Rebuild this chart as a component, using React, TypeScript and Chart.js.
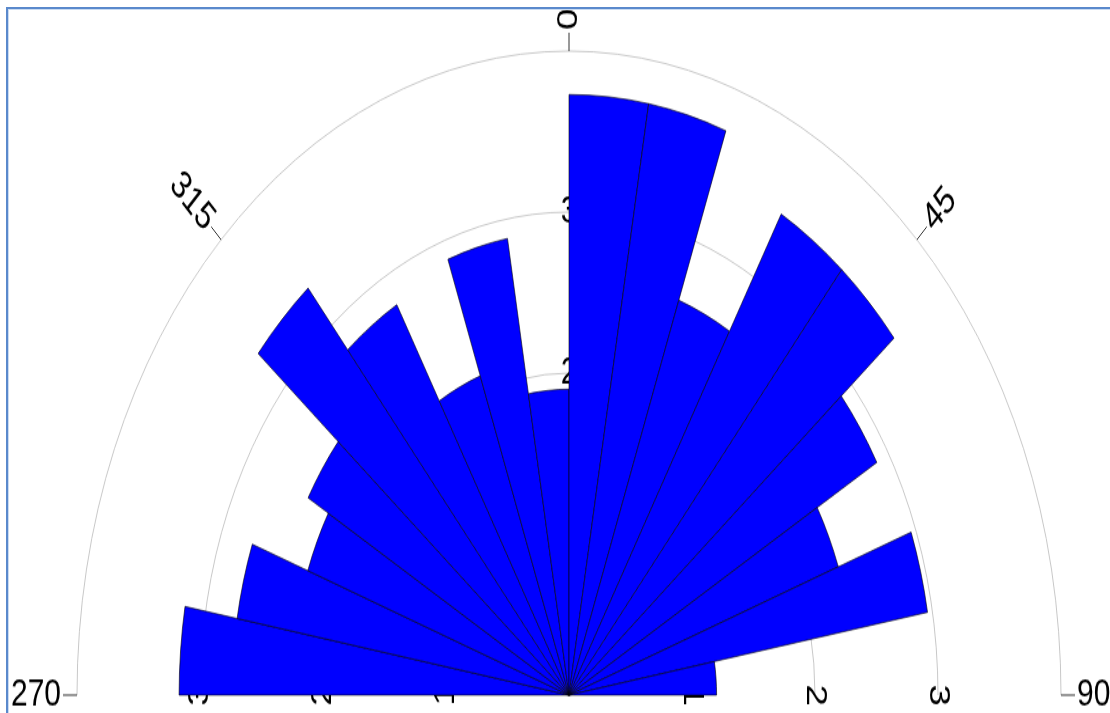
import React, { useEffect, useRef } from "react";
import { Chart, registerables } from "chart.js";

Chart.register(...registerables);

// Direction bins (10° each), clockwise from 270° through 0° to 90°
const binLabels = [
  "270-280", "280-290", "290-300", "300-310", "310-320", "320-330",
  "330-340", "340-350", "350-360", "0-10", "10-20", "20-30",
  "30-40", "40-50", "50-60", "60-70", "70-80", "80-90",
];
const binValues = [
  3.17, 2.74, 2.26, 2.45, 3.3, 2.8,
  2.11, 2.88, 1.9, 3.73, 3.73, 2.61,
  3.45, 3.45, 2.89, 2.33, 2.96, 1.2,
];
const ringValues = [1, 2, 3, 4];
const ringTickValues = [1, 2, 3];
const ringTickLabels = ["1", "2", "3"];
const ringLabelAxes = [270, 0, 90];
const angleTickDegrees = [270, 315, 0, 45, 90];
const angleTickLabels = ["270", "315", "0", "45", "90"];

const FONT = '30px "Liberation Sans", Arial, sans-serif';
const STRETCH_Y = 1.309;

const polarDecor = {
  id: "polarDecor",
  beforeDatasetsDraw(chart: any) {
    const sc = chart.scales.r;
    const ctx = chart.ctx as CanvasRenderingContext2D;
    const cx = sc.xCenter;
    const cy = sc.yCenter;
    ctx.save();

    // half rings
    ctx.strokeStyle = "#c8c8c8";
    ctx.lineWidth = 1;
    ringValues.forEach((v) => {
      const r = sc.getDistanceFromCenterForValue(v);
      ctx.beginPath();
      ctx.arc(cx, cy, r, Math.PI, 2 * Math.PI);
      ctx.stroke();
    });

    // radial tick labels (drawn under the bars)
    ctx.font = FONT;
    ctx.fillStyle = "#000";
    ctx.textAlign = "center";
    ctx.textBaseline = "middle";
    ringLabelAxes.forEach((deg) => {
      const a = (deg * Math.PI) / 180;
      ringTickValues.forEach((v, i) => {
        const r = sc.getDistanceFromCenterForValue(v);
        const x = cx + r * Math.sin(a);
        const y = cy - r * Math.cos(a);
        ctx.save();
        ctx.translate(x, y);
        ctx.rotate(a);
        ctx.fillText(ringTickLabels[i], 0, 0);
        ctx.restore();
      });
    });

    // angular ticks and labels
    const R = sc.drawingArea;
    angleTickDegrees.forEach((deg, i) => {
      const a = (deg * Math.PI) / 180;
      const sx = Math.sin(a);
      const sy = -Math.cos(a);
      ctx.strokeStyle = "#333";
      ctx.lineWidth = 1;
      ctx.beginPath();
      ctx.moveTo(cx + R * sx, cy + R * sy);
      ctx.lineTo(cx + (R + 14) * sx, cy + (R + 14) * sy);
      ctx.stroke();
      const tx = cx + (R + 16) * sx;
      const ty = cy + (R + 16) * sy;
      const rightSide = deg <= 180;
      const rot = rightSide ? deg - 90 : deg - 270;
      ctx.save();
      ctx.translate(tx, ty);
      ctx.rotate((rot * Math.PI) / 180);
      ctx.textAlign = rightSide ? "left" : "right";
      ctx.textBaseline = "middle";
      ctx.fillText(angleTickLabels[i], 0, 0);
      ctx.restore();
    });

    ctx.restore();
  },
};

export default function App() {
  const canvasRef = useRef<HTMLCanvasElement | null>(null);

  useEffect(() => {
    if (!canvasRef.current) return;
    const chart = new Chart(canvasRef.current, {
      type: "polarArea",
      data: {
        labels: binLabels,
        datasets: [
          {
            data: binValues,
            angle: 10,
            backgroundColor: "#0000ff",
            borderColor: "#000000",
            borderWidth: 0.6,
          } as any,
        ],
      },
      options: {
        responsive: false,
        animation: false,
        devicePixelRatio: 1,
        layout: { padding: { left: 77, right: 49, top: 39, bottom: 10 } },
        plugins: {
          legend: { display: false },
          tooltip: { enabled: false },
        },
        scales: {
          r: {
            min: 0,
            max: 4,
            startAngle: 270,
            ticks: { display: false, stepSize: 1 },
            grid: { display: false },
            angleLines: { display: false },
            pointLabels: { display: false },
          },
        },
      } as any,
      plugins: [polarDecor],
    });
    return () => chart.destroy();
  }, []);

  return (
    <div
      style={{
        position: "fixed",
        left: 0,
        top: 0,
        width: 1110,
        height: 713,
        overflow: "hidden",
        background: "#ffffff",
      }}
    >
      <div
        style={{
          position: "absolute",
          left: 0,
          top: 0,
          transform: `scaleY(${STRETCH_Y})`,
          transformOrigin: "0 0",
        }}
      >
        <canvas ref={canvasRef} width={1110} height={1033} />
      </div>
      <div
        style={{
          position: "absolute",
          left: 6,
          top: 7,
          width: 1200,
          height: 800,
          borderTop: "2px solid #5a89cc",
          borderLeft: "2px solid #5a89cc",
          boxShadow: "inset 1px 1px 0 #c9dbf2",
          pointerEvents: "none",
        }}
      />
    </div>
  );
}
